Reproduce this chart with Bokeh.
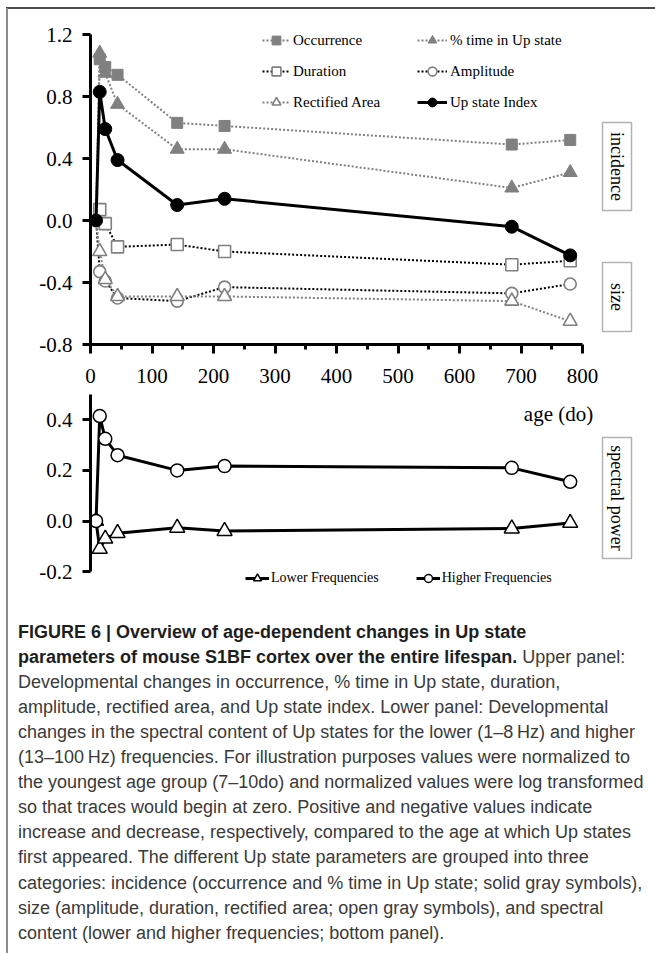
import math
from bokeh.plotting import figure
from bokeh.models import (Range1d, FixedTicker, PrintfTickFormatter, Legend, LegendItem,
                          Div, Label, BoxAnnotation)
from bokeh.layouts import column
from bokeh.embed import file_html
from bokeh.resources import INLINE

# ---------------- data ----------------
age = [9, 15, 24, 44, 141, 218, 685, 780]
occurrence = [0, 1.04, 0.99, 0.94, 0.63, 0.61, 0.49, 0.52]
pct_time_up = [0, 1.08, 0.95, 0.75, 0.46, 0.46, 0.21, 0.31]
duration = [0, 0.07, -0.02, -0.17, -0.155, -0.20, -0.285, -0.26]
amplitude = [0, -0.33, -0.39, -0.50, -0.52, -0.43, -0.47, -0.41]
rectified_area = [0, -0.20, -0.38, -0.49, -0.49, -0.49, -0.52, -0.65]
up_state_index = [0, 0.83, 0.59, 0.39, 0.10, 0.14, -0.04, -0.225]
higher_freq = [0, 0.415, 0.325, 0.26, 0.20, 0.217, 0.21, 0.155]
lower_freq = [0, -0.11, -0.07, -0.048, -0.027, -0.04, -0.03, -0.008]

x_ticks = [0, 100, 200, 300, 400, 500, 600, 700, 800]
x_minor = [50, 150, 250, 350, 450, 550, 650, 750]
upper_y_ticks = [-0.8, -0.4, 0.0, 0.4, 0.8, 1.2]
lower_y_ticks = [-0.2, 0.0, 0.2, 0.4]

caption_bold_1 = "FIGURE 6 | Overview of age-dependent changes in Up state"
caption_bold_2 = "parameters of mouse S1BF cortex over the entire lifespan."
caption_tail_2 = " Upper panel:"
caption_lines = [
    "Developmental changes in occurrence, % time in Up state, duration,",
    "amplitude, rectified area, and Up state index. Lower panel: Developmental",
    "changes in the spectral content of Up states for the lower (1\u20138\u2009Hz) and higher",
    "(13\u2013100\u2009Hz) frequencies. For illustration purposes values were normalized to",
    "the youngest age group (7\u201310do) and normalized values were log transformed",
    "so that traces would begin at zero. Positive and negative values indicate",
    "increase and decrease, respectively, compared to the age at which Up states",
    "first appeared. The different Up state parameters are grouped into three",
    "categories: incidence (occurrence and % time in Up state; solid gray symbols),",
    "size (amplitude, duration, rectified area; open gray symbols), and spectral",
    "content (lower and higher frequencies; bottom panel).",
]

SERIF = "Liberation Serif"
GRAY = "#808080"

def style_axes(p, yticks, top):
    p.grid.visible = False
    p.outline_line_color = None
    p.background_fill_color = "white"
    p.border_fill_color = "white"
    for ax in p.yaxis:
        ax.ticker = FixedTicker(ticks=yticks)
        ax.formatter = PrintfTickFormatter(format="%.1f")
        ax.bounds = (yticks[0], top)
        ax.axis_line_width = 3
        ax.axis_line_color = "black"
        ax.major_tick_line_width = 3
        ax.major_tick_out = 8
        ax.major_tick_in = 0
        ax.minor_tick_line_color = None
        ax.major_label_text_font = SERIF
        ax.major_label_text_font_size = "21px"
        ax.major_label_text_color = "black"
        ax.major_label_standoff = 10

# ---------------- upper panel ----------------
p1 = figure(width=655, height=394, x_range=Range1d(0, 894.3), y_range=Range1d(-0.8, 1.355),
            output_backend="svg", toolbar_location=None,
            min_border_left=90, min_border_right=15, min_border_top=10, min_border_bottom=50)
style_axes(p1, upper_y_ticks, 1.2)
xa = p1.xaxis[0]
xa.ticker = FixedTicker(ticks=x_ticks, minor_ticks=x_minor)
xa.bounds = (0, 800)
xa.axis_line_width = 3
xa.major_tick_line_width = 3
xa.minor_tick_line_width = 3
xa.major_tick_out = 9
xa.major_tick_in = 0
xa.minor_tick_out = 5
xa.minor_tick_in = 0
xa.major_label_text_font = SERIF
xa.major_label_text_font_size = "21px"
xa.major_label_text_color = "black"
xa.major_label_standoff = 15

l_occ = p1.line(age, occurrence, line_color=GRAY, line_width=2, line_dash="2 2")
l_pct = p1.line(age, pct_time_up, line_color=GRAY, line_width=2, line_dash="2 2")
l_dur = p1.line(age, duration, line_color="black", line_width=2, line_dash="2 2")
l_amp = p1.line(age, amplitude, line_color="black", line_width=2, line_dash="2 2")
l_rect = p1.line(age, rectified_area, line_color=GRAY, line_width=2, line_dash="2 2")

s_occ = p1.scatter(age[1:], occurrence[1:], marker="square", size=11, fill_color=GRAY, line_color=GRAY)
s_pct = p1.scatter(age[1:], pct_time_up[1:], marker="triangle", size=14, fill_color=GRAY, line_color=GRAY)
s_dur = p1.scatter(age[1:], duration[1:], marker="square", size=12, fill_color="white",
                   line_color=GRAY, line_width=1.6)
s_amp = p1.scatter(age[1:], amplitude[1:], marker="circle", size=12, fill_color="white",
                   line_color=GRAY, line_width=1.6)
s_rect = p1.scatter(age[1:], rectified_area[1:], marker="triangle", size=14, fill_color="white",
                    line_color=GRAY, line_width=1.6)
l_idx = p1.line(age, up_state_index, line_color="black", line_width=3)
s_idx = p1.scatter(age, up_state_index, marker="circle", size=13, fill_color="black", line_color="black")

def mk_legend(items, vx, vy, gw):
    return Legend(items=items, location=(vx, vy), orientation="vertical",
                  glyph_width=gw, glyph_height=22, label_height=22, spacing=9,
                  padding=0, margin=0, label_standoff=3,
                  label_text_font=SERIF, label_text_font_size="15px", label_text_color="black",
                  border_line_color=None, background_fill_alpha=0)

leg1 = mk_legend([LegendItem(label="Occurrence", renderers=[l_occ, s_occ]),
                  LegendItem(label="Duration", renderers=[l_dur, s_dur]),
                  LegendItem(label="Rectified Area", renderers=[l_rect, s_rect])], 172, 231, 28)
leg2 = mk_legend([LegendItem(label="% time in Up state", renderers=[l_pct, s_pct]),
                  LegendItem(label="Amplitude", renderers=[l_amp, s_amp]),
                  LegendItem(label="Up state Index", renderers=[l_idx, s_idx])], 327, 231, 30)
p1.add_layout(leg1, "center")
p1.add_layout(leg2, "center")

def px_x(px):
    return (px - 90) / 0.615

def up_y(py):
    return (221 - py) / 155.0

p1.add_layout(BoxAnnotation(left=px_x(602), right=px_x(631), top=up_y(123), bottom=up_y(211),
                            fill_alpha=0, line_color="black", line_width=1.5))
p1.add_layout(BoxAnnotation(left=px_x(602), right=px_x(631), top=up_y(263), bottom=up_y(332),
                            fill_alpha=0, line_color="black", line_width=1.5))
p1.add_layout(Label(x=px_x(616.5), y=up_y(167), text="incidence", angle=-math.pi / 2,
                    text_align="center", text_baseline="middle", text_font=SERIF,
                    text_font_size="18px", text_color="black"))
p1.add_layout(Label(x=px_x(616.5), y=up_y(297.5), text="size", angle=-math.pi / 2,
                    text_align="center", text_baseline="middle", text_font=SERIF,
                    text_font_size="18px", text_color="black"))

# ---------------- lower panel ----------------
p2 = figure(width=655, height=206, x_range=p1.x_range, y_range=Range1d(0.5 - 201 / 253.0, 0.5),
            output_backend="svg", toolbar_location=None, x_axis_location=None,
            min_border_left=90, min_border_right=15, min_border_top=0, min_border_bottom=5)
style_axes(p2, lower_y_ticks, 0.5)

l_low = p2.line(age, lower_freq, line_color="black", line_width=3)
s_low = p2.scatter(age, lower_freq, marker="triangle", size=15, fill_color="white",
                   line_color="black", line_width=1.5)
l_high = p2.line(age, higher_freq, line_color="black", line_width=3)
s_high = p2.scatter(age, higher_freq, marker="circle", size=13, fill_color="white",
                    line_color="black", line_width=1.5)

leg3 = Legend(items=[LegendItem(label="Lower Frequencies", renderers=[l_low, s_low]),
                     LegendItem(label="Higher Frequencies", renderers=[l_high, s_high])],
              location=(155, 7), orientation="horizontal",
              glyph_width=24, glyph_height=20, label_height=20, spacing=37,
              padding=0, margin=0, label_standoff=2,
              label_text_font=SERIF, label_text_font_size="14px", label_text_color="black",
              border_line_color=None, background_fill_alpha=0)
p2.add_layout(leg3, "center")

def lo_y(py):
    return (520.5 - py) / 253.0

p2.add_layout(BoxAnnotation(left=px_x(602), right=px_x(631), top=lo_y(437), bottom=lo_y(558),
                            fill_alpha=0, line_color="black", line_width=1.5))
p2.add_layout(Label(x=px_x(616.5), y=lo_y(497.5), text="spectral power", angle=-math.pi / 2,
                    text_align="center", text_baseline="middle", text_font=SERIF,
                    text_font_size="18px", text_color="black"))
p2.add_layout(Label(x=px_x(558), y=lo_y(413), text="age (do)", text_align="center",
                    text_baseline="middle", text_font=SERIF, text_font_size="21px",
                    text_color="black"))

# ---------------- caption ----------------
def esc(s):
    return s.replace("&", "&amp;").replace("<", "&lt;").replace(">", "&gt;")

line_style = ("position:absolute;left:18px;white-space:nowrap;"
              "height:25px;line-height:25px;")
html = ['<div style="position:relative;width:655px;height:353px;font-family:\'Liberation Sans\';'
        'font-size:18px;color:#3a3a3a;">']
tops = [632 - 600 - 12.5 + 25.1 * i for i in range(2 + len(caption_lines))]
html.append('<div style="%stop:%.1fpx;font-weight:bold;color:#1e1e1e;">%s</div>'
            % (line_style, tops[0], esc(caption_bold_1)))
html.append('<div style="%stop:%.1fpx;"><b style="color:#1e1e1e;">%s</b>%s</div>'
            % (line_style, tops[1], esc(caption_bold_2), esc(caption_tail_2)))
for i, t in enumerate(caption_lines):
    html.append('<div style="%stop:%.1fpx;">%s</div>' % (line_style, tops[i + 2], esc(t)))
html.append('</div>')
caption = Div(text="".join(html), width=655, height=353,
              styles={"margin": "0", "padding": "0"})

border = Div(text='<div style="position:fixed;left:6px;top:7px;width:649px;height:2px;background:#4a4a4a"></div>'
                  '<div style="position:fixed;left:6px;top:8px;width:2px;height:945px;background:#8a8a8a"></div>',
             width=1, height=1)

layout = column(p1, p2, caption, border, spacing=0)
open("out.html", "w").write(file_html(layout, INLINE))
